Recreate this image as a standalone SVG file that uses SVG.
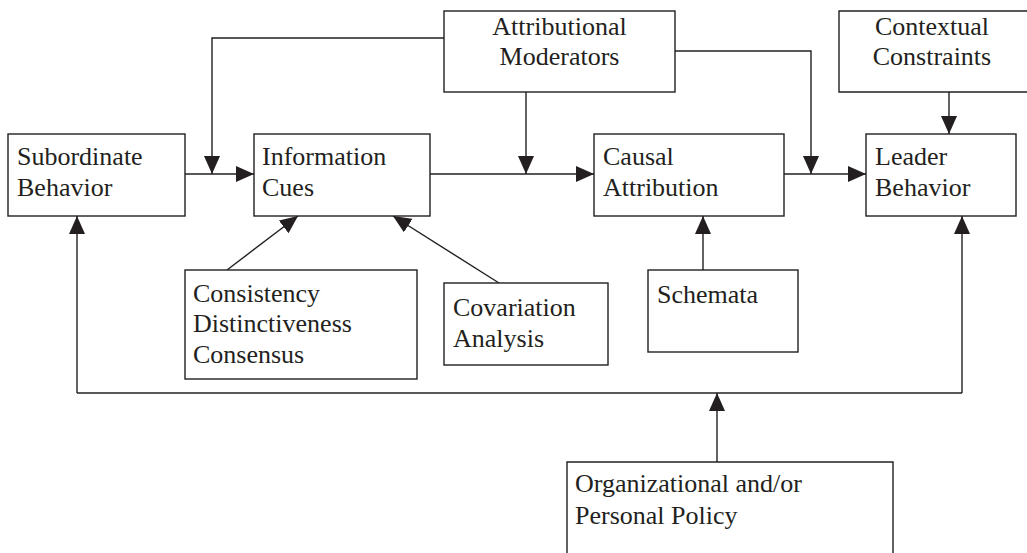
<svg xmlns="http://www.w3.org/2000/svg" width="1027" height="553" viewBox="0 0 1027 553">
<style>
.box{fill:#fff;stroke:#231f20;stroke-width:1.4}
.c{fill:none;stroke:#231f20;stroke-width:1.4}
.t{font-family:"Liberation Serif","Times New Roman",serif;font-size:26px;fill:#231f20}
.m{text-anchor:middle}
</style>
<defs>
<marker id="ah" markerUnits="userSpaceOnUse" markerWidth="18" markerHeight="16" refX="18" refY="8" orient="auto" viewBox="0 0 18 16">
<path d="M0,0 L18,8 L0,16 z" fill="#231f20"/>
</marker>
</defs>
<rect width="1027" height="553" fill="#fff"/>
<g id="connectors">
<path class="c" d="M185,174 H254" marker-end="url(#ah)"/>
<path class="c" d="M430,174 H594" marker-end="url(#ah)"/>
<path class="c" d="M784,174 H866" marker-end="url(#ah)"/>
<path class="c" d="M444,38 H212 V174" marker-end="url(#ah)"/>
<path class="c" d="M526,92 V174" marker-end="url(#ah)"/>
<path class="c" d="M675,51 H811 V174" marker-end="url(#ah)"/>
<path class="c" d="M949,92 V134" marker-end="url(#ah)"/>
<path class="c" d="M227,270 L298,216" marker-end="url(#ah)"/>
<path class="c" d="M499,283 L393,216" marker-end="url(#ah)"/>
<path class="c" d="M703,270 V216" marker-end="url(#ah)"/>
<path class="c" d="M77,393 H962"/>
<path class="c" d="M77,393 V216" marker-end="url(#ah)"/>
<path class="c" d="M962,393 V216" marker-end="url(#ah)"/>
<path class="c" d="M717,462 V393" marker-end="url(#ah)"/>
</g>
<g id="attributional-moderators">
<rect class="box" x="444" y="11" width="231" height="81"/>
<text class="t m" x="559.5" y="35">Attributional</text>
<text class="t m" x="559.5" y="65">Moderators</text>
</g>
<g id="contextual-constraints">
<path class="box" d="M1030,11 H839 V92 H1030"/>
<text class="t m" x="932" y="35">Contextual</text>
<text class="t m" x="932" y="65">Constraints</text>
</g>
<g id="subordinate-behavior">
<rect class="box" x="8" y="134" width="177" height="82"/>
<text class="t" x="17" y="165">Subordinate</text>
<text class="t" x="17" y="196">Behavior</text>
</g>
<g id="information-cues">
<rect class="box" x="254" y="134" width="176" height="82"/>
<text class="t" x="262" y="165">Information</text>
<text class="t" x="262" y="196">Cues</text>
</g>
<g id="causal-attribution">
<rect class="box" x="594" y="134" width="190" height="82"/>
<text class="t" x="603" y="165">Causal</text>
<text class="t" x="603" y="196">Attribution</text>
</g>
<g id="leader-behavior">
<rect class="box" x="866" y="134" width="150" height="82"/>
<text class="t" x="875" y="165">Leader</text>
<text class="t" x="875" y="196">Behavior</text>
</g>
<g id="consistency">
<rect class="box" x="185" y="270" width="232" height="109"/>
<text class="t" x="193" y="302">Consistency</text>
<text class="t" x="193" y="332">Distinctiveness</text>
<text class="t" x="193" y="363">Consensus</text>
</g>
<g id="covariation-analysis">
<rect class="box" x="444" y="283" width="164" height="82"/>
<text class="t" x="453" y="316">Covariation</text>
<text class="t" x="453" y="347">Analysis</text>
</g>
<g id="schemata">
<rect class="box" x="648" y="270" width="150" height="82"/>
<text class="t" x="657" y="303">Schemata</text>
</g>
<g id="organizational-policy">
<path class="box" d="M567,560 V462 H893 V560"/>
<text class="t" x="575" y="492">Organizational and/or</text>
<text class="t" x="575" y="524">Personal Policy</text>
</g>
</svg>
